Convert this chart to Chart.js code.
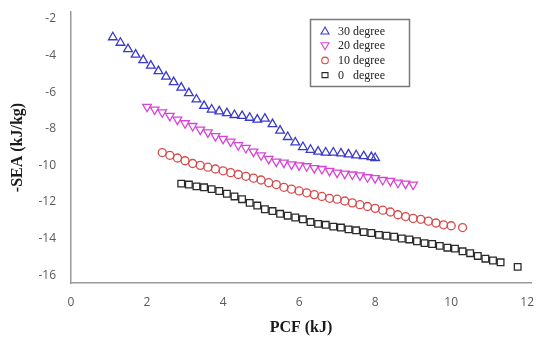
<!DOCTYPE html>
<html>
<head>
<meta charset="utf-8">
<script src="https://cdn.jsdelivr.net/npm/chart.js@4.4.0/dist/chart.umd.min.js"></script>
<style>
  html, body { margin: 0; padding: 0; background: #fff; }
  #wrap { width: 537px; height: 337px; }
</style>
</head>
<body>
<div id="wrap"><canvas id="seaChart" width="537" height="337"></canvas></div>
<script>
// values
const seriesNames = ['30 degree', '20 degree', '10 degree', '0   degree'];
const yTicks = [-16, -14, -12, -10, -8, -6, -4, -2];
const xTicks = [0, 2, 4, 6, 8, 10, 12];

const x30 = [1.1, 1.3, 1.5, 1.7, 1.9, 2.1, 2.3, 2.5, 2.7, 2.9, 3.1, 3.3, 3.5, 3.7, 3.9, 4.1, 4.3, 4.5, 4.7, 4.9, 5.1, 5.3, 5.5, 5.7, 5.9, 6.1, 6.3, 6.5, 6.7, 6.9, 7.1, 7.3, 7.5, 7.7, 7.9, 8.0];
const y30 = [-3.0, -3.3, -3.65, -3.95, -4.25, -4.55, -4.85, -5.15, -5.45, -5.75, -6.05, -6.4, -6.75, -6.95, -7.05, -7.15, -7.25, -7.3, -7.4, -7.5, -7.45, -7.75, -8.1, -8.45, -8.75, -9.0, -9.15, -9.25, -9.3, -9.3, -9.35, -9.4, -9.45, -9.5, -9.55, -9.6];

const x20 = [2.0, 2.2, 2.4, 2.6, 2.8, 3.0, 3.2, 3.4, 3.6, 3.8, 4.0, 4.2, 4.4, 4.6, 4.8, 5.0, 5.2, 5.4, 5.6, 5.8, 6.0, 6.2, 6.4, 6.6, 6.8, 7.0, 7.2, 7.4, 7.6, 7.8, 8.0, 8.2, 8.4, 8.6, 8.8, 9.0];
const y20 = [-6.8, -6.95, -7.1, -7.3, -7.5, -7.7, -7.85, -8.05, -8.2, -8.4, -8.55, -8.7, -8.9, -9.05, -9.25, -9.45, -9.65, -9.8, -9.85, -9.95, -10.0, -10.05, -10.15, -10.2, -10.3, -10.4, -10.45, -10.5, -10.55, -10.65, -10.7, -10.8, -10.85, -10.95, -11.0, -11.05];

const x10 = [2.4, 2.6, 2.8, 3.0, 3.2, 3.4, 3.6, 3.8, 4.0, 4.2, 4.4, 4.6, 4.8, 5.0, 5.2, 5.4, 5.6, 5.8, 6.0, 6.2, 6.4, 6.6, 6.8, 7.0, 7.2, 7.4, 7.6, 7.8, 8.0, 8.2, 8.4, 8.6, 8.8, 9.0, 9.2, 9.4, 9.6, 9.8, 10.0, 10.3];
const y10 = [-9.3, -9.45, -9.6, -9.75, -9.9, -10.0, -10.1, -10.2, -10.3, -10.4, -10.5, -10.6, -10.7, -10.8, -10.95, -11.05, -11.2, -11.3, -11.4, -11.5, -11.6, -11.7, -11.8, -11.85, -11.95, -12.05, -12.15, -12.25, -12.35, -12.45, -12.55, -12.7, -12.8, -12.9, -12.95, -13.05, -13.15, -13.25, -13.3, -13.4];

const x0 = [2.9, 3.1, 3.3, 3.5, 3.7, 3.9, 4.1, 4.3, 4.5, 4.7, 4.9, 5.1, 5.3, 5.5, 5.7, 5.9, 6.1, 6.3, 6.5, 6.7, 6.9, 7.1, 7.3, 7.5, 7.7, 7.9, 8.1, 8.3, 8.5, 8.7, 8.9, 9.1, 9.3, 9.5, 9.7, 9.9, 10.1, 10.3, 10.5, 10.7, 10.9, 11.1, 11.3, 11.75];
const y0 = [-11.0, -11.05, -11.15, -11.2, -11.3, -11.4, -11.55, -11.7, -11.85, -12.05, -12.2, -12.4, -12.5, -12.65, -12.75, -12.85, -12.95, -13.1, -13.2, -13.25, -13.35, -13.4, -13.5, -13.55, -13.65, -13.7, -13.8, -13.85, -13.9, -14.0, -14.05, -14.15, -14.25, -14.3, -14.4, -14.5, -14.55, -14.7, -14.8, -14.95, -15.1, -15.2, -15.3, -15.55];

const pairs = (xs, ys) => xs.map((x, i) => ({ x, y: ys[i] }));

const styles = [
  { color: '#3a3acb', pointStyle: 'triangle', rotation: 0, radius: 5 },
  { color: '#d646d6', pointStyle: 'triangle', rotation: 180, radius: 5 },
  { color: '#d84a4a', pointStyle: 'circle', rotation: 0, radius: 4 },
  { color: '#2a2a2a', pointStyle: 'rect', rotation: 0, radius: 4.7 }
];
const dataSets = [pairs(x30, y30), pairs(x20, y20), pairs(x10, y10), pairs(x0, y0)];

// legend box drawn inside the plot, like the original
const boxLegend = {
  id: 'boxLegend',
  afterDraw(chart) {
    const ctx = chart.ctx;
    const left = 310, top = 19, w = 99, h = 67;
    ctx.save();
    ctx.fillStyle = '#fff';
    ctx.fillRect(left, top, w, h);
    ctx.strokeStyle = '#7a7a7a';
    ctx.lineWidth = 1.5;
    ctx.strokeRect(left + 0.5, top + 0.5, w, h);
    ctx.font = '12px "Liberation Serif", serif';
    ctx.textBaseline = 'middle';
    seriesNames.forEach((name, i) => {
      const y = 31 + i * 14.7;
      const s = styles[i];
      ctx.strokeStyle = s.color;
      ctx.lineWidth = 1.1;
      ctx.beginPath();
      const mx = 325;
      if (s.pointStyle === 'triangle' && s.rotation === 0) {
        ctx.moveTo(mx, y - 4); ctx.lineTo(mx + 4, y + 3); ctx.lineTo(mx - 4, y + 3); ctx.closePath();
      } else if (s.pointStyle === 'triangle') {
        ctx.moveTo(mx, y + 4); ctx.lineTo(mx + 4, y - 3); ctx.lineTo(mx - 4, y - 3); ctx.closePath();
      } else if (s.pointStyle === 'circle') {
        ctx.arc(mx, y, 3.3, 0, Math.PI * 2);
      } else {
        ctx.rect(mx - 3, y - 2.5, 6, 5);
      }
      ctx.stroke();
      ctx.fillStyle = '#222';
      ctx.fillText(name, 338, y + 0.5);
    });
    ctx.restore();
  }
};

const ctx = document.getElementById('seaChart').getContext('2d');
window.seaChart = new Chart(ctx, {
  type: 'scatter',
  data: {
    datasets: dataSets.map((d, i) => ({
      label: seriesNames[i],
      data: d,
      showLine: false,
      pointStyle: styles[i].pointStyle,
      rotation: styles[i].rotation,
      pointRadius: styles[i].radius,
      pointBorderWidth: 1.3,
      borderColor: styles[i].color,
      backgroundColor: 'rgba(255,255,255,0)'
    }))
  },
  options: {
    responsive: false,
    animation: false,
    layout: { autoPadding: false, padding: { top: 12, right: 6, left: 0, bottom: 0 } },
    plugins: { legend: { display: false }, tooltip: { enabled: false } },
    scales: {
      x: {
        type: 'linear',
        min: 0,
        max: 12.1,
        afterBuildTicks: s => { s.ticks = xTicks.map(v => ({ value: v })); },
        afterFit: s => { s.height = 54; s.paddingLeft = 0; s.paddingRight = 0; },
        grid: { display: false, drawTicks: false },
        border: { color: '#9a9a9a', width: 1.5 },
        ticks: { color: '#5a5a5a', padding: 12, maxRotation: 0, font: { family: '"Open Sans", sans-serif', size: 12 } },
        title: {
          display: true,
          text: 'PCF (kJ)',
          color: '#1a1a1a',
          padding: { top: 2, bottom: 0 },
          font: { family: '"Liberation Serif", serif', size: 16, weight: 'bold' }
        }
      },
      y: {
        type: 'linear',
        min: -16.43,
        max: -1.62,
        afterBuildTicks: s => { s.ticks = yTicks.map(v => ({ value: v })); },
        afterFit: s => { s.width = 71; s.paddingTop = 0; s.paddingBottom = 0; },
        grid: { display: false, drawTicks: false },
        border: { color: '#9a9a9a', width: 1.5 },
        ticks: { color: '#5a5a5a', padding: 15, font: { family: '"Open Sans", sans-serif', size: 12 } },
        title: {
          display: true,
          text: '-SEA (kJ/kg)',
          color: '#1a1a1a',
          padding: { top: 8, bottom: 0 },
          font: { family: '"Liberation Serif", serif', size: 16, weight: 'bold' }
        }
      }
    }
  },
  plugins: [boxLegend]
});
</script>
</body>
</html>
